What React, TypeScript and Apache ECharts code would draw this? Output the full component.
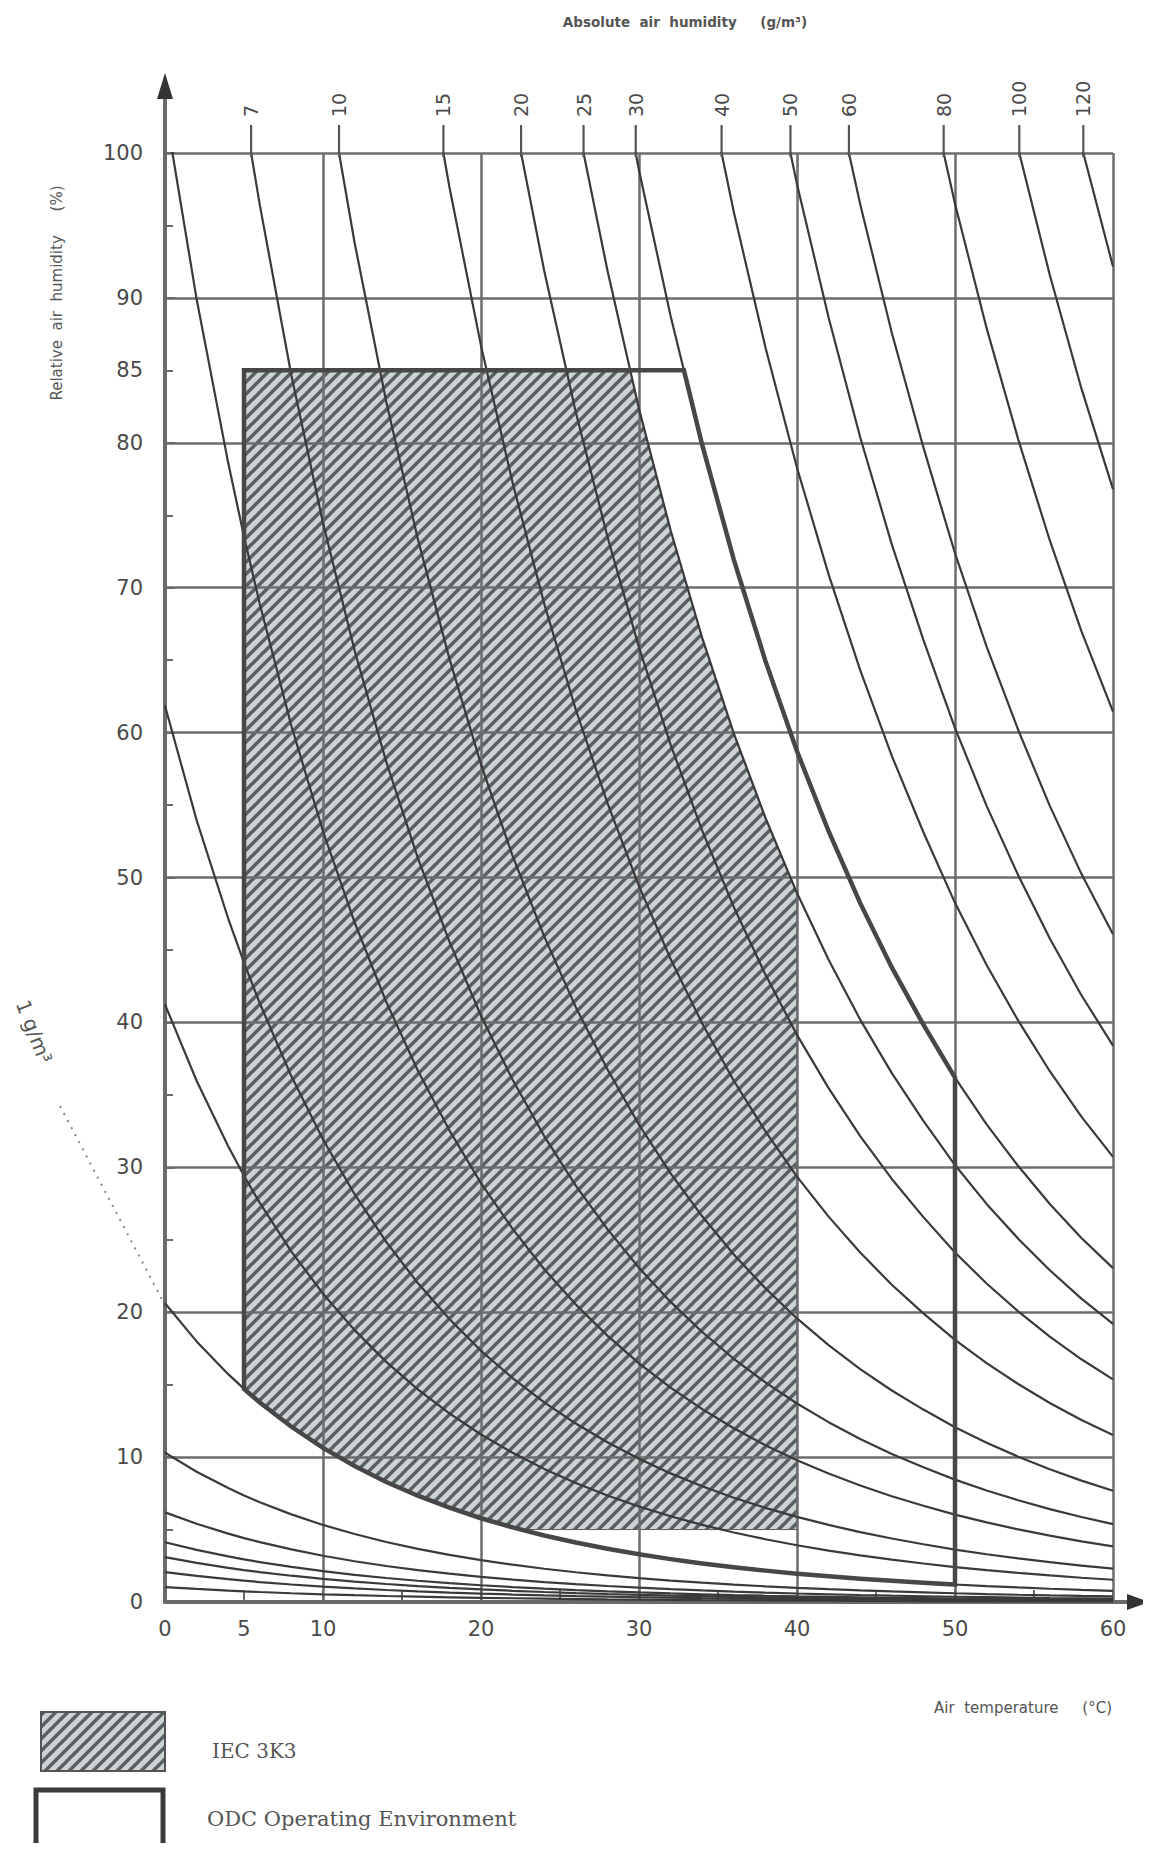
import React, { useEffect, useRef } from "react";
import * as echarts from "echarts";

// Saturation water-vapour density (g/m³) versus air temperature (°C)
const satTemps = [0, 2, 4, 5, 6, 8, 10, 12, 14, 16, 18, 20, 22, 24, 26, 28, 30, 32, 34, 36, 38, 40, 42, 44, 46, 48, 50, 52, 54, 56, 58, 60];
const satDensity = [4.85, 5.56, 6.36, 6.8, 7.26, 8.27, 9.4, 10.66, 12.07, 13.63, 15.36, 17.3, 19.42, 21.77, 24.36, 27.2, 30.36, 33.8, 37.57, 41.7, 46.19, 51.1, 56.4, 62.2, 68.5, 75.3, 82.9, 91.0, 99.7, 109.2, 119.4, 130.2];

// Absolute humidity isolines (g/m³)
const isolineValues = [0.05, 0.1, 0.15, 0.2, 0.3, 0.5, 1, 2, 3, 5, 7, 10, 15, 20, 25, 30, 40, 50, 60, 80, 100, 120];
const topLabelValues = [7, 10, 15, 20, 25, 30, 40, 50, 60, 80, 100, 120];

// Axis labels
const xLabelValues = [0, 5, 10, 20, 30, 40, 50, 60];
const yLabelValues = [0, 10, 20, 30, 40, 50, 60, 70, 80, 85, 90, 100];

// Climatic classes: temperature (°C), relative humidity (%), absolute humidity (g/m³)
const iec3k3 = { tMin: 5, tMax: 40, rhMin: 5, rhMax: 85, ahMin: 1, ahMax: 25 };
const odcEnv = { tMin: 5, tMax: 50, rhMin: 0, rhMax: 85, ahMin: 1, ahMax: 30 };

const labelNote = "1 g/m³";

const rhAt = (ah: number, i: number) => (ah / satDensity[i]) * 100;

function isoline(ah: number) {
  return satTemps.map((t, i) => [t, rhAt(ah, i)]);
}

function crossing(ah: number, rh: number): number | null {
  for (let i = 0; i < satTemps.length - 1; i++) {
    const a = rhAt(ah, i);
    const b = rhAt(ah, i + 1);
    if (a >= rh && b <= rh) {
      return satTemps[i] + ((a - rh) / (a - b)) * (satTemps[i + 1] - satTemps[i]);
    }
  }
  return null;
}

function rhOnCurve(ah: number, t: number): number {
  for (let i = 0; i < satTemps.length - 1; i++) {
    if (t >= satTemps[i] && t <= satTemps[i + 1]) {
      const f = (t - satTemps[i]) / (satTemps[i + 1] - satTemps[i]);
      return rhAt(ah, i) + f * (rhAt(ah, i + 1) - rhAt(ah, i));
    }
  }
  return rhAt(ah, satTemps.length - 1);
}

function regionPolygon(r: typeof iec3k3) {
  const ts: number[] = [r.tMin, r.tMax, ...satTemps.filter((t) => t > r.tMin && t < r.tMax)];
  const cu = crossing(r.ahMax, r.rhMax);
  if (cu !== null && cu > r.tMin && cu < r.tMax) ts.push(cu);
  if (r.rhMin > 0) {
    const cl = crossing(r.ahMin, r.rhMin);
    if (cl !== null && cl > r.tMin && cl < r.tMax) ts.push(cl);
  }
  ts.sort((a, b) => a - b);
  const upper = ts.map((t) => [t, Math.min(r.rhMax, rhOnCurve(r.ahMax, t))]);
  const lower = ts.map((t) => [t, Math.max(r.rhMin, rhOnCurve(r.ahMin, t))]).reverse();
  return upper.concat(lower);
}

const hatchSvg =
  "<svg xmlns='http://www.w3.org/2000/svg' width='12' height='12'>" +
  "<rect width='12' height='12' fill='#cdd2d5'/>" +
  "<path d='M-3,3 L3,-3 M0,12 L12,0 M9,15 L15,9' stroke='#586064' stroke-width='3.4'/>" +
  "</svg>";
const hatchUrl = "data:image/svg+xml;charset=utf-8," + encodeURIComponent(hatchSvg);
const hatchPattern: any = { image: hatchUrl, repeat: "repeat", imageWidth: 12, imageHeight: 12 };

const FONT = "DejaVu Sans";
const SERIF = "DejaVu Serif";

export default function App() {
  const ref = useRef<HTMLDivElement>(null);

  useEffect(() => {
    const el = ref.current!;
    const chart = echarts.init(el, null, { renderer: "svg" });

    const poly3k3 = regionPolygon(iec3k3);
    const polyOdc = regionPolygon(odcEnv);
    const topTicks = topLabelValues.map((v) => [crossing(v, 100) ?? 60, v]);

    const lineSeries = isolineValues.map((v) => ({
      type: "line",
      name: String(v),
      data: isoline(v),
      showSymbol: false,
      silent: true,
      clip: true,
      z: 3,
      lineStyle: { color: "#3a3a3a", width: 2.2 },
    }));

    const option: any = {
      animation: false,
      backgroundColor: "#ffffff",
      grid: { left: 157, top: 145, right: 30, bottom: 241, containLabel: false },
      xAxis: [
        {
          type: "value",
          min: 0,
          max: 60,
          interval: 10,
          axisLine: { show: true, lineStyle: { color: "#6a6a6a", width: 4 } },
          axisTick: { show: true, inside: true, length: 12, lineStyle: { color: "#6a6a6a", width: 2 } },
          minorTick: { show: true, splitNumber: 2, length: 12, lineStyle: { color: "#6a6a6a", width: 2 } },
          axisLabel: {
            customValues: xLabelValues,
            margin: 16,
            fontSize: 21,
            fontFamily: FONT,
            color: "#4a4a4a",
          },
          splitLine: { show: true, lineStyle: { color: "#6d6d6d", width: 2.5 } },
        },
      ],
      yAxis: [
        {
          type: "value",
          min: 0,
          max: 100,
          interval: 10,
          axisLine: { show: true, lineStyle: { color: "#6a6a6a", width: 4 } },
          axisTick: { show: true, inside: true, length: 10, lineStyle: { color: "#6a6a6a", width: 2 } },
          minorTick: { show: true, splitNumber: 2, length: 8, lineStyle: { color: "#6a6a6a", width: 2 } },
          axisLabel: {
            customValues: yLabelValues,
            margin: 22,
            fontSize: 21,
            fontFamily: FONT,
            color: "#4a4a4a",
          },
          splitLine: { show: true, lineStyle: { color: "#6d6d6d", width: 2.5 } },
        },
      ],
      series: [
        {
          type: "custom",
          name: "IEC 3K3",
          coordinateSystem: "cartesian2d",
          data: [[0, 0]],
          silent: true,
          z: -1,
          renderItem: (_p: any, api: any) => ({
            type: "polygon",
            shape: { points: poly3k3.map((p) => api.coord(p)) },
            style: { fill: hatchPattern, stroke: "#5a5a5a", lineWidth: 1 },
          }),
        },
        ...lineSeries,
        {
          type: "custom",
          name: "ODC Operating Environment",
          coordinateSystem: "cartesian2d",
          data: [[0, 0]],
          silent: true,
          z: 5,
          renderItem: (_p: any, api: any) => ({
            type: "polygon",
            shape: { points: polyOdc.map((p) => api.coord(p)) },
            style: { fill: "none", stroke: "#474747", lineWidth: 4.5, lineJoin: "miter" },
          }),
        },
        {
          type: "custom",
          name: "top labels",
          coordinateSystem: "cartesian2d",
          data: topTicks,
          silent: true,
          clip: false,
          z: 6,
          renderItem: (_p: any, api: any) => {
            const p = api.coord([api.value(0), 100]);
            return {
              type: "group",
              children: [
                {
                  type: "line",
                  shape: { x1: p[0], y1: p[1] + 4, x2: p[0], y2: p[1] - 28 },
                  style: { stroke: "#555", lineWidth: 2.2 },
                },
                {
                  type: "text",
                  x: p[0],
                  y: p[1] - 36,
                  rotation: Math.PI / 2,
                  style: {
                    text: String(api.value(1)),
                    align: "left",
                    verticalAlign: "middle",
                    fontSize: 19,
                    fontFamily: FONT,
                    fill: "#4a4a4a",
                  },
                },
              ],
            };
          },
        },
      ],
    };

    chart.setOption(option);

    const tl = chart.convertToPixel({ gridIndex: 0 }, [0, 100]) as number[];
    const br = chart.convertToPixel({ gridIndex: 0 }, [60, 0]) as number[];
    const cs = chart.convertToPixel({ gridIndex: 0 }, [0, rhAt(1, 0)]) as number[];

    chart.setOption({
      graphic: [
        // y-axis extension with arrow
        { type: "line", shape: { x1: tl[0], y1: tl[1], x2: tl[0], y2: tl[1] - 60 }, style: { stroke: "#6a6a6a", lineWidth: 4 } },
        { type: "polygon", shape: { points: [[tl[0], tl[1] - 80], [tl[0] - 8, tl[1] - 54], [tl[0] + 8, tl[1] - 54]] }, style: { fill: "#333" } },
        // x-axis extension with arrow
        { type: "line", shape: { x1: br[0], y1: br[1], x2: br[0] + 18, y2: br[1] }, style: { stroke: "#6a6a6a", lineWidth: 4 } },
        { type: "polygon", shape: { points: [[br[0] + 36, br[1]], [br[0] + 14, br[1] - 8], [br[0] + 14, br[1] + 8]] }, style: { fill: "#333" } },
        // titles
        { type: "text", x: 677, y: 14, style: { text: "Absolute  air  humidity     (g/m³)", fontSize: 13.5, fontFamily: FONT, fontWeight: "bold", fill: "#555", align: "center", verticalAlign: "middle" } },
        { type: "text", x: 49, y: 285, rotation: Math.PI / 2, style: { text: "Relative  air  humidity     (%)", fontSize: 15, fontFamily: FONT, fill: "#555", align: "center", verticalAlign: "middle" } },
        { type: "text", x: 1104, y: 1700, style: { text: "Air  temperature     (°C)", fontSize: 15, fontFamily: FONT, fill: "#555", align: "right", verticalAlign: "middle" } },
        // 1 g/m³ note with dotted leader
        { type: "text", x: 14, y: 993, rotation: -1.2, style: { text: labelNote, fontSize: 20, fontFamily: FONT, fill: "#555", align: "left", verticalAlign: "middle" } },
        { type: "line", shape: { x1: 52, y1: 1098, x2: cs[0] - 2, y2: cs[1] - 2 }, style: { stroke: "#888", lineWidth: 2, lineDash: [2, 6] } },
        // legend
        { type: "rect", shape: { x: 33, y: 1704, width: 124, height: 59 }, style: { fill: hatchPattern, stroke: "#555", lineWidth: 2 } },
        { type: "text", x: 204, y: 1743, style: { text: "IEC 3K3", fontSize: 20, fontFamily: SERIF, fill: "#555", align: "left", verticalAlign: "middle" } },
        { type: "rect", shape: { x: 28, y: 1782, width: 127, height: 64 }, style: { fill: "#fff", stroke: "#3a3a3a", lineWidth: 5 } },
        { type: "text", x: 199, y: 1811, style: { text: "ODC Operating Environment", fontSize: 21, fontFamily: SERIF, fill: "#555", align: "left", verticalAlign: "middle" } },
      ],
    });

    return () => chart.dispose();
  }, []);

  return <div ref={ref} style={{ width: 1135, height: 1835, background: "#fff" }} />;
}
